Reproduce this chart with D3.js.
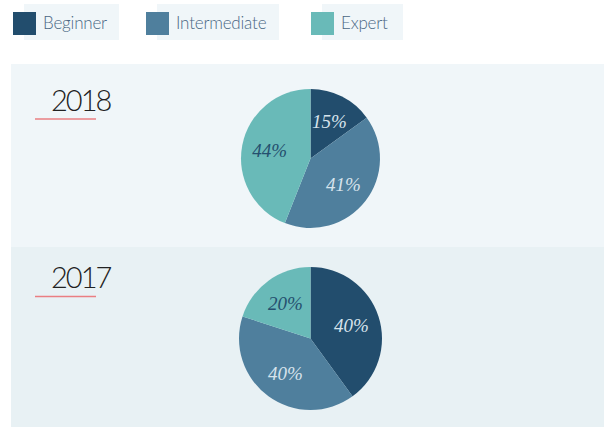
<!DOCTYPE html>
<html>
<head>
<meta charset="utf-8">
<script src="https://cdn.jsdelivr.net/npm/d3@7"></script>
<style>
  body { margin: 0; background: #fff; }
  svg { display: block; }
</style>
</head>
<body>
<svg></svg>
<script>
const width = 604
const height = 427

// data
const levels = ['Beginner', 'Intermediate', 'Expert']
const years = ['2018', '2017']
const values2018 = [15, 41, 44]
const values2017 = [40, 40, 20]

const colors = ['#224d6d', '#4f7f9d', '#69bab8']
const labelColors = ['#d7e3ec', '#d7e3ec', '#25506f']

const svg = d3.select('svg')
    .attr('width', width)
    .attr('height', height)

// legend
const legendX = [13, 146, 311]
const legendBgW = [95, 122, 81]
const legend = svg.selectAll('g.legend')
    .data(levels)
    .enter()
    .append('g')
    .attr('class', 'legend')
    .attr('transform', (d, i) => `translate(${legendX[i]}, 0)`)

legend.append('rect')
    .attr('x', 11)
    .attr('y', 4)
    .attr('width', (d, i) => legendBgW[i])
    .attr('height', 36)
    .attr('fill', '#f0f6f9')

legend.append('rect')
    .attr('x', 0)
    .attr('y', 12)
    .attr('width', 23)
    .attr('height', 23)
    .attr('fill', (d, i) => colors[i])

legend.append('text')
    .attr('x', 30)
    .attr('y', 29)
    .text(d => d)
    .attr('font-family', 'Lato')
    .attr('font-weight', 300)
    .attr('font-size', 17)
    .attr('letter-spacing', -0.2)
    .attr('fill', '#4a6784')

// panels
const panels = [
    { year: years[0], values: values2018, top: 64, h: 183, bg: '#f0f6f9', base: 47, line: 55, cy: 94.5, r: 69.5 },
    { year: years[1], values: values2017, top: 247, h: 180, bg: '#e8f1f4', base: 41, line: 49.5, cy: 91.5, r: 71.5 }
]

const pie = d3.pie().sort(null).value(d => d)

const panel = svg.selectAll('g.panel')
    .data(panels)
    .enter()
    .append('g')
    .attr('class', 'panel')
    .attr('transform', d => `translate(0, ${d.top})`)

panel.append('rect')
    .attr('x', 11)
    .attr('y', 0)
    .attr('width', width - 11)
    .attr('height', d => d.h)
    .attr('fill', d => d.bg)

panel.append('text')
    .attr('x', 51)
    .attr('y', d => d.base)
    .text(d => d.year)
    .attr('font-family', 'Lato')
    .attr('font-weight', 300)
    .attr('font-size', 29)
    .attr('letter-spacing', -2)
    .attr('fill', '#222')

panel.append('line')
    .attr('x1', 35)
    .attr('x2', 96)
    .attr('y1', d => d.line)
    .attr('y2', d => d.line)
    .attr('stroke', '#ea7f82')
    .attr('stroke-width', 1.6)

panel.each(function (p) {
    const g = d3.select(this).append('g')
        .attr('transform', `translate(310.5, ${p.cy})`)
    const arc = d3.arc().innerRadius(0).outerRadius(p.r)
    const labelArc = d3.arc().innerRadius(p.r * 0.6).outerRadius(p.r * 0.6)
    const arcs = pie(p.values)

    g.selectAll('path')
        .data(arcs)
        .enter()
        .append('path')
        .attr('d', arc)
        .attr('fill', (d, i) => colors[i])

    g.selectAll('text')
        .data(arcs)
        .enter()
        .append('text')
        .attr('transform', d => `translate(${labelArc.centroid(d)})`)
        .attr('dy', '0.35em')
        .attr('text-anchor', 'middle')
        .text(d => d.data + '%')
        .attr('font-family', 'Liberation Serif')
        .attr('font-style', 'italic')
        .attr('font-size', 19)
        .attr('fill', (d, i) => labelColors[i])
})
</script>
</body>
</html>
